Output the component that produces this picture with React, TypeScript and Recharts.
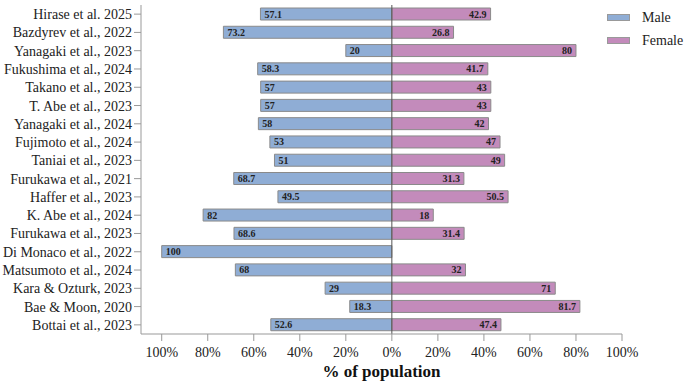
import { BarChart, Bar, XAxis, YAxis, ReferenceLine, LabelList } from 'recharts'

document.body.style.margin = '0'

const STUDIES = [
  'Hirase et al. 2025',
  'Bazdyrev et al., 2022',
  'Yanagaki et al., 2023',
  'Fukushima et al., 2024',
  'Takano et al., 2023',
  'T. Abe et al., 2023',
  'Yanagaki et al., 2024',
  'Fujimoto et al., 2024',
  'Taniai et al., 2023',
  'Furukawa et al., 2021',
  'Haffer et al., 2023',
  'K. Abe et al., 2024',
  'Furukawa et al., 2023',
  'Di Monaco et al., 2022',
  'Matsumoto et al., 2024',
  'Kara & Ozturk, 2023',
  'Bae & Moon, 2020',
  'Bottai et al., 2023',
]
const MALE = [57.1, 73.2, 20, 58.3, 57, 57, 58, 53, 51, 68.7, 49.5, 82, 68.6, 100, 68, 29, 18.3, 52.6]
const FEMALE = [42.9, 26.8, 80, 41.7, 43, 43, 42, 47, 49, 31.3, 50.5, 18, 31.4, 0, 32, 71, 81.7, 47.4]
const X_TICKS = [-100, -80, -60, -40, -20, 0, 20, 40, 60, 80, 100]

const data = STUDIES.map((study, i) => ({ study, male: -MALE[i], female: FEMALE[i] }))

const FONT = '"Liberation Serif", "Times New Roman", serif'
const BLUE = '#8fadd5'
const PINK = '#c38bbb'
const AXIS = '#999'

const maleLabel = (p: any) => {
  const { x, y, width, height, value } = p
  if (!value) return null
  const left = Math.min(x, x + width)
  return (
    <text x={left + 4} y={y + height / 2} dy={3.5} fontSize={10} fontWeight="bold" fill="#222" fontFamily={FONT}>
      {Math.abs(value)}
    </text>
  )
}

const femaleLabel = (p: any) => {
  const { x, y, width, height, value } = p
  if (!value) return null
  const right = Math.max(x, x + width)
  return (
    <text x={right - 4} y={y + height / 2} dy={3.5} fontSize={10} fontWeight="bold" fill="#222" fontFamily={FONT} textAnchor="end">
      {Math.abs(value)}
    </text>
  )
}

const StudyTick = (p: any) => {
  const { x, y, payload } = p
  return (
    <text x={x} y={y} dy={5} textAnchor="end" fontSize={14} fill="#222" fontFamily={FONT}>
      {payload.value}
    </text>
  )
}

const LegendBox = () => (
  <div style={{ position: 'absolute', left: 607, top: 6, fontFamily: FONT, fontSize: 14, color: '#222' }}>
    {[['Male', BLUE], ['Female', PINK]].map(([name, color]) => (
      <div key={name} style={{ display: 'flex', alignItems: 'center', height: 23, whiteSpace: 'nowrap' }}>
        <span style={{ width: 21, height: 5, background: color, border: '1px solid #999', marginRight: 12 }} />
        {name}
      </div>
    ))}
  </div>
)

export default function App() {
  return (
    <div style={{ position: 'relative', width: 685, height: 388, background: '#fff', overflow: 'hidden' }}>
      <BarChart
        width={685}
        height={388}
        data={data}
        layout="vertical"
        stackOffset="sign"
        margin={{ top: 5, right: 63, bottom: 0, left: 0 }}
      >
        <XAxis
          type="number"
          domain={[-109, 100]}
          ticks={X_TICKS}
          allowDataOverflow
          tickFormatter={(v) => `${Math.abs(v)}%`}
          tick={{ fontSize: 14, fill: '#222', fontFamily: FONT }}
          axisLine={{ stroke: AXIS }}
          tickLine={{ stroke: AXIS }}
          tickSize={7}
          tickMargin={6}
          height={54}
          label={{
            value: '% of population',
            position: 'insideBottom',
            offset: 11,
            fontSize: 17,
            fontWeight: 'bold',
            fill: '#111',
            fontFamily: FONT,
          }}
        />
        <YAxis
          type="category"
          dataKey="study"
          width={141}
          interval={0}
          tick={<StudyTick />}
          axisLine={{ stroke: AXIS }}
          tickLine={{ stroke: AXIS }}
          tickSize={7}
          tickMargin={2}
        />
        <Bar dataKey="male" stackId="s" fill={BLUE} stroke="#8a8a8a" strokeWidth={1} barSize={12} isAnimationActive={false}>
          <LabelList dataKey="male" content={maleLabel} />
        </Bar>
        <Bar dataKey="female" stackId="s" fill={PINK} stroke="#8a8a8a" strokeWidth={1} barSize={12} isAnimationActive={false}>
          <LabelList dataKey="female" content={femaleLabel} />
        </Bar>
        <ReferenceLine x={0} stroke="#555" strokeWidth={1} />
      </BarChart>
      <LegendBox />
    </div>
  )
}
